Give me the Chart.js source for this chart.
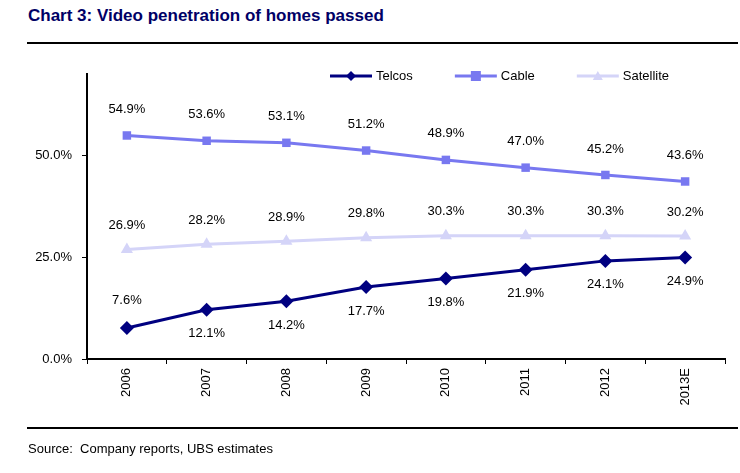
<!DOCTYPE html>
<html>
<head>
<meta charset="utf-8">
<script src="https://cdn.jsdelivr.net/npm/chart.js@4.4.0/dist/chart.umd.min.js"></script>
<style>
  html, body { margin: 0; padding: 0; background: #fff; }
  body { width: 740px; height: 473px; position: relative; overflow: hidden; font-family: "Liberation Sans", Arial, sans-serif; }
  #title { position: absolute; left: 28px; top: 6px; font-family: "Liberation Sans Narrow", "Liberation Sans", Arial, sans-serif; font-weight: bold; font-size: 17px; color: #000066; white-space: nowrap; }
  .rule { position: absolute; left: 27px; width: 711px; height: 2px; background: #000; }
  #source { position: absolute; left: 28px; top: 441px; font-size: 13px; color: #000; white-space: nowrap; }
  #wrap { position: absolute; left: 0; top: 0; width: 740px; height: 473px; }
</style>
</head>
<body>
<div id="title">Chart 3: Video penetration of homes passed</div>
<div class="rule" style="top:42px"></div>
<div id="wrap"><canvas id="c" width="740" height="473"></canvas></div>
<div class="rule" style="top:427px"></div>
<div id="source">Source:&nbsp; Company reports, UBS estimates</div>
<script>
const categories = ["2006", "2007", "2008", "2009", "2010", "2011", "2012", "2013E"];
const telcos = [7.6, 12.1, 14.2, 17.7, 19.8, 21.9, 24.1, 24.9];
const cable = [54.9, 53.6, 53.1, 51.2, 48.9, 47.0, 45.2, 43.6];
const satellite = [26.9, 28.2, 28.9, 29.8, 30.3, 30.3, 30.3, 30.2];
const yTickValues = [0, 25, 50];

const COLORS = { telcos: "#000080", cable: "#7878F0", satellite: "#D4D4F8" };
const FONT = "Liberation Sans";

// data label plugin
const labelPlugin = {
  id: "valueLabels",
  afterDatasetsDraw(chart) {
    const ctx = chart.ctx;
    ctx.save();
    ctx.font = "13px '" + FONT + "'";
    ctx.fillStyle = "#000";
    ctx.textAlign = "center";
    ctx.textBaseline = "middle";
    chart.data.datasets.forEach((ds, di) => {
      const meta = chart.getDatasetMeta(di);
      meta.data.forEach((pt, i) => {
        let off = ds.labelOffset;
        if (ds.labelOffsetFn) off = ds.labelOffsetFn(i);
        ctx.fillText(ds.data[i].toFixed(1) + "%", pt.x, pt.y + off);
      });
    });
    ctx.restore();
  }
};

function drawMarker(ctx, style, cx, cy, r) {
  if (style === "rectRot") {
    ctx.moveTo(cx, cy - r); ctx.lineTo(cx + r, cy); ctx.lineTo(cx, cy + r); ctx.lineTo(cx - r, cy); ctx.closePath();
  } else if (style === "rect") {
    ctx.rect(cx - r, cy - r, 2 * r, 2 * r);
  } else {
    ctx.moveTo(cx, cy - r); ctx.lineTo(cx + r, cy + r * 0.8); ctx.lineTo(cx - r, cy + r * 0.8); ctx.closePath();
  }
}

// custom legend: line with marker
const legendPlugin = {
  id: "lineLegend",
  afterDraw(chart) {
    const ctx = chart.ctx;
    ctx.save();
    ctx.font = "13px '" + FONT + "'";
    ctx.textBaseline = "middle";
    let x = 330;
    const y = 76;
    chart.data.datasets.forEach((ds) => {
      const lineLen = 42;
      ctx.strokeStyle = ds.borderColor;
      ctx.lineWidth = 3;
      ctx.beginPath();
      ctx.moveTo(x, y);
      ctx.lineTo(x + lineLen, y);
      ctx.stroke();
      ctx.fillStyle = ds.borderColor;
      ctx.beginPath();
      drawMarker(ctx, ds.pointStyle, x + lineLen / 2, y, 5);
      ctx.fill();
      ctx.fillStyle = "#000";
      ctx.textAlign = "left";
      ctx.fillText(ds.label, x + lineLen + 4, y);
      const w = ctx.measureText(ds.label).width;
      x += lineLen + 4 + w + 42;
    });
    ctx.restore();
  }
};

new Chart(document.getElementById("c"), {
  type: "line",
  data: {
    labels: categories,
    datasets: [
      { label: "Telcos", data: telcos, borderColor: COLORS.telcos, backgroundColor: COLORS.telcos,
        borderWidth: 3, pointStyle: "rectRot", pointRadius: 7, pointBorderWidth: 0, tension: 0,
        labelOffsetFn: (i) => i === 0 ? -28 : 24 },
      { label: "Cable", data: cable, borderColor: COLORS.cable, backgroundColor: COLORS.cable,
        borderWidth: 3, pointStyle: "rect", pointRadius: 6, pointBorderWidth: 0, tension: 0,
        labelOffset: -26 },
      { label: "Satellite", data: satellite, borderColor: COLORS.satellite, backgroundColor: COLORS.satellite,
        borderWidth: 3, pointStyle: "triangle", pointRadius: 7, pointBorderWidth: 0, tension: 0,
        labelOffset: -24 }
    ]
  },
  options: {
    responsive: false,
    animation: false,
    events: [],
    layout: { padding: { left: 0, right: 15, top: 74, bottom: 64 } },
    plugins: { legend: { display: false }, tooltip: { enabled: false }, title: { display: false } },
    scales: {
      x: {
        type: "category",
        offset: true,
        grid: { offset: true, drawOnChartArea: false, drawTicks: true, tickLength: 5, color: "#000", lineWidth: 1 },
        border: { color: "#000", width: 2 },
        ticks: { color: "#000", font: { family: FONT, size: 13 }, minRotation: 90, maxRotation: 90, padding: 4, autoSkip: false },
        afterFit(scale) { scale.height = 50; }
      },
      y: {
        min: 0, max: 70,
        afterBuildTicks(scale) { scale.ticks = yTickValues.map(v => ({ value: v })); },
        grid: { drawOnChartArea: false, drawTicks: true, tickLength: 5, color: "#000", lineWidth: 1 },
        border: { color: "#000", width: 2 },
        ticks: { color: "#000", font: { family: FONT, size: 13 }, padding: 10,
          callback: (v) => Number(v).toFixed(1) + "%" },
        afterFit(scale) { scale.width = 87; }
      }
    }
  },
  plugins: [labelPlugin, legendPlugin]
});
</script>
</body>
</html>
